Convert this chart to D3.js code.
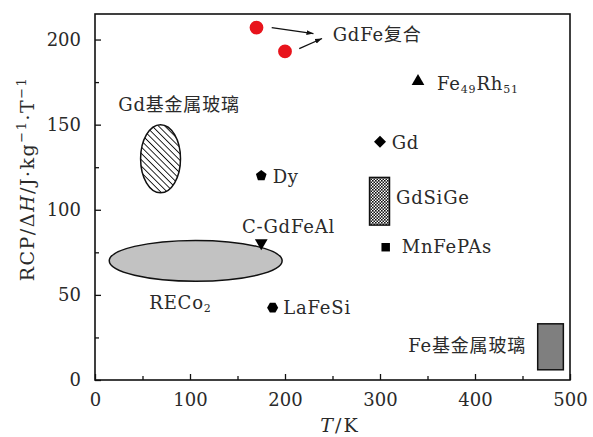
<!DOCTYPE html>
<html><head><meta charset="utf-8">
<script src="https://cdn.jsdelivr.net/npm/d3@7"></script>
<style>
html,body{margin:0;padding:0;background:#fff;}
svg text{font-family:"DejaVu Serif","Noto Sans CJK SC",serif;fill:#2a2a2a;}
</style></head>
<body><svg id="c" width="593" height="437"></svg>
<script>
// ---- data ----
const xTicks = [0,100,200,300,400,500];
const yTicks = [0,50,100,150,200];
const pointNames = ["GdFe-a","GdFe-b","Fe49Rh51","Gd","Dy","C-GdFeAl","MnFePAs","LaFeSi"];
const pointT     = [170, 200, 340, 300, 175, 175, 306, 187];
const pointRCP   = [207, 193, 175.5, 140, 120, 80.5, 78, 42.5];
const pointShape = ["circle","circle","triangle","diamond","pentagon","triangleDown","square","hexagon"];
const ellipseNames = ["Gd基金属玻璃","RECo2"];
const ellipseT   = [[48,90],[15,197]];
const ellipseRCP = [[110,150],[58,82]];
const rectNames  = ["GdSiGe","Fe基金属玻璃"];
const rectT      = [[289,310],[466,493]];
const rectRCP    = [[91,119],[6,33]];

const svg = d3.select("#c");
const m = {l:95, r:23, t:14, b:57};
const W = 593, H = 437;
const x = d3.scaleLinear().domain([0,500]).range([m.l, W-m.r]);
const y = d3.scaleLinear().domain([0,215]).range([H-m.b, m.t]);

const defs = svg.append("defs");
const hatch = defs.append("pattern").attr("id","hatch").attr("patternUnits","userSpaceOnUse")
  .attr("width",4.5).attr("height",4.5).attr("patternTransform","rotate(-45)");
hatch.append("rect").attr("width",4.5).attr("height",4.5).attr("fill","#fff");
hatch.append("line").attr("x1",0).attr("y1",0).attr("x2",0).attr("y2",4.5).attr("stroke","#111").attr("stroke-width",1.8);
const chk = defs.append("pattern").attr("id","chk").attr("patternUnits","userSpaceOnUse").attr("width",3).attr("height",3);
chk.append("rect").attr("width",3).attr("height",3).attr("fill","#fff");
chk.append("rect").attr("width",1.6).attr("height",1.6).attr("fill","#111");
chk.append("rect").attr("x",1.5).attr("y",1.5).attr("width",1.5).attr("height",1.5).attr("fill","#111");
defs.append("marker").attr("id","arr").attr("viewBox","0 0 10 10").attr("refX",10).attr("refY",5)
  .attr("markerWidth",7).attr("markerHeight",7).attr("markerUnits","userSpaceOnUse").attr("orient","auto")
  .append("path").attr("d","M0,1.5L10,5L0,8.5z").attr("fill","#111");

// ellipses
ellipseNames.forEach((n,i)=>{
  const cx = x((ellipseT[i][0]+ellipseT[i][1])/2), cy = y((ellipseRCP[i][0]+ellipseRCP[i][1])/2);
  const rx = (x(ellipseT[i][1])-x(ellipseT[i][0]))/2, ry = (y(ellipseRCP[i][0])-y(ellipseRCP[i][1]))/2;
  svg.append("ellipse").attr("cx",cx).attr("cy",cy).attr("rx",rx).attr("ry",ry)
    .attr("fill", i===0 ? "url(#hatch)" : "#c2c2c2").attr("stroke","#111").attr("stroke-width",1.5);
});
// rects
rectNames.forEach((n,i)=>{
  svg.append("rect").attr("x",x(rectT[i][0])).attr("y",y(rectRCP[i][1]))
    .attr("width",x(rectT[i][1])-x(rectT[i][0])).attr("height",y(rectRCP[i][0])-y(rectRCP[i][1]))
    .attr("fill", i===0 ? "url(#chk)" : "#7f7f7f").attr("stroke","#111").attr("stroke-width",1.5);
});

// symbols
function poly(n, rot){ return {draw(ctx,size){ const r=Math.sqrt(size/(n/2*Math.sin(2*Math.PI/n)));
  for(let k=0;k<n;k++){const a=rot+2*Math.PI*k/n; const px=r*Math.sin(a), py=-r*Math.cos(a); k?ctx.lineTo(px,py):ctx.moveTo(px,py);} ctx.closePath(); }}; }
const shapeType = {circle:d3.symbolCircle, triangle:d3.symbolTriangle, diamond:poly(4,0), square:d3.symbolSquare,
  pentagon:poly(5,0), hexagon:poly(6,Math.PI/6), triangleDown:poly(3,Math.PI)};
const shapeSize = {circle:150, triangle:70, diamond:72, square:72, pentagon:75, hexagon:80, triangleDown:70};
pointNames.forEach((n,i)=>{
  const s = pointShape[i];
  svg.append("path").attr("d", d3.symbol().type(shapeType[s]).size(shapeSize[s])())
    .attr("transform",`translate(${x(pointT[i])},${y(pointRCP[i])})`)
    .attr("fill", s==="circle" ? "#e8141c" : "#000");
});

// arrows
const arrowsFrom = [[186,207],[215,194.7]];
const arrowsTo   = [[230,203.5],[239,200.6]];
arrowsFrom.forEach((f,i)=>{
  svg.append("line").attr("x1",x(f[0])).attr("y1",y(f[1])).attr("x2",x(arrowsTo[i][0])).attr("y2",y(arrowsTo[i][1]))
    .attr("stroke","#111").attr("stroke-width",1.3).attr("marker-end","url(#arr)");
});

// labels
const fs = 18;
function txt(tx, ty, anchor){
  return svg.append("text").attr("x",x(tx)).attr("y",y(ty)).attr("font-size",fs).attr("dy","0.35em")
    .attr("letter-spacing",0.8).attr("text-anchor",anchor||"start");
}
function sub(t, s){ t.append("tspan").attr("font-size",11).attr("dy",3).text(s); }
txt(250.2, 202.7).text("GdFe复合");
const fr = txt(360, 173.9); fr.append("tspan").text("Fe"); sub(fr,"49");
fr.append("tspan").attr("dy",-3).text("Rh"); sub(fr,"51");
txt(24.5, 162).text("Gd基金属玻璃");
txt(312.3, 139.4).text("Gd");
txt(187, 119.4).text("Dy");
txt(316.8, 107).text("GdSiGe");
txt(203.7, 90, "middle").text("C-GdFeAl");
txt(322.8, 78.1).text("MnFePAs");
const re = txt(57.2, 45.4); re.append("tspan").text("RECo"); sub(re,"2");
txt(198.2, 42.5).text("LaFeSi");
txt(453.7, 20.2, "end").text("Fe基金属玻璃");

// axes
const gx = svg.append("g").attr("transform",`translate(0,${H-m.b})`);
gx.call(d3.axisBottom(x).tickValues(d3.range(0,501,50)).tickSize(-6).tickPadding(13)
  .tickFormat(d=> xTicks.includes(d) ? d : ""));
gx.selectAll(".tick line").attr("y2", d=> d%100===0 ? -6 : -4);
const gy = svg.append("g").attr("transform",`translate(${m.l},0)`);
gy.call(d3.axisLeft(y).tickValues(d3.range(0,201,25)).tickSize(-6).tickPadding(14)
  .tickFormat(d=> yTicks.includes(d) ? d : ""));
gy.selectAll(".tick line").attr("x2", d=> d%50===0 ? 6 : 4);
svg.selectAll(".domain").remove();
svg.selectAll(".tick text").attr("font-size",18).attr("fill","#2a2a2a").attr("font-family","DejaVu Serif");
svg.selectAll(".tick line").attr("stroke","#111").attr("stroke-width",1.3);
svg.append("rect").attr("x",m.l).attr("y",m.t).attr("width",W-m.l-m.r).attr("height",H-m.t-m.b)
  .attr("fill","none").attr("stroke","#111").attr("stroke-width",1.6);

// axis titles
const xt = svg.append("text").attr("x",340).attr("y",432).attr("text-anchor","middle").attr("font-size",19)
  .attr("letter-spacing",2);
xt.append("tspan").attr("font-style","italic").text("T");
xt.append("tspan").text("/K");
const yt = svg.append("text").attr("transform",`translate(34,179) rotate(-90)`)
  .attr("text-anchor","middle").attr("font-size",19).attr("letter-spacing",1.5);
yt.append("tspan").text("RCP/Δ");
yt.append("tspan").attr("font-style","italic").text("H");
yt.append("tspan").text("/J·kg");
yt.append("tspan").attr("font-size",13).attr("dy",-8).text("−1");
yt.append("tspan").attr("dy",8).text("·T");
yt.append("tspan").attr("font-size",13).attr("dy",-8).text("−1");
</script></body></html>
